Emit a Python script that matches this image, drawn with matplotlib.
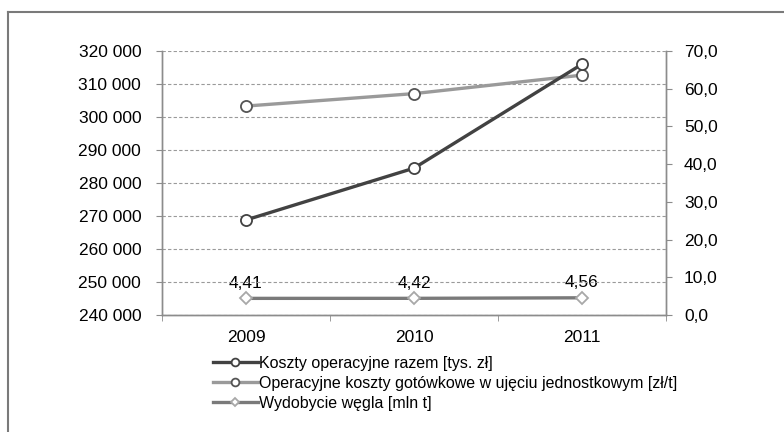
import matplotlib.pyplot as plt
from matplotlib.lines import Line2D
from matplotlib.ticker import FuncFormatter
import numpy as np

plt.rcParams['font.family'] = ['Liberation Sans', 'DejaVu Sans']

years = ['2009', '2010', '2011']
koszty_razem = [268800, 284500, 316000]          # tys. zl, left axis
koszty_jednostkowe = [55.4, 58.7, 63.6]          # zl/t, right axis
wydobycie = [4.41, 4.42, 4.56]                   # mln t, right axis

labels = ['Koszty operacyjne razem [tys. zł]',
          'Operacyjne koszty gotówkowe w ujęciu jednostkowym [zł/t]',
          'Wydobycie węgla [mln t]']

axis_gray = '#8c8c8c'
fs = 12.5

fig = plt.figure(figsize=(7.84, 4.32), dpi=100)
ax = fig.add_axes([162/784, 1 - 315/432, 504/784, 264/432])
ax2 = ax.twinx()

x = np.arange(len(years))

# left axis
ax.set_xlim(-0.5, 2.5)
ax.set_ylim(240000, 320000)
ax.set_yticks(np.arange(240000, 320001, 10000))
ax.yaxis.set_major_formatter(FuncFormatter(lambda v, p: '{:,.0f}'.format(v).replace(',', ' ')))
ax.grid(axis='y', color='#9a9a9a', linestyle=(0, (3, 2)), linewidth=0.8)
ax.set_axisbelow(True)

ax.set_xticks(x)
ax.set_xticklabels(years)
ax.set_xticks(np.arange(-0.5, 2.6, 1), minor=True)
ax.tick_params(axis='x', which='major', length=0, labelsize=fs, pad=11)
ax.tick_params(axis='x', which='minor', length=4, color=axis_gray, direction='out')
ax.tick_params(axis='y', length=4, color=axis_gray, labelsize=fs, pad=11)

# right axis
ax2.set_ylim(0, 70)
ax2.set_yticks(np.arange(0, 71, 10))
ax2.yaxis.set_major_formatter(FuncFormatter(lambda v, p: '{:.1f}'.format(v).replace('.', ',')))
ax2.tick_params(axis='y', length=4, color=axis_gray, labelsize=fs, pad=9)

for a in (ax, ax2):
    a.spines['top'].set_visible(False)
    for s in ('left', 'right', 'bottom'):
        a.spines[s].set_color(axis_gray)
        a.spines[s].set_linewidth(1.0)

l1, = ax.plot(x, koszty_razem, color='#424242', lw=2.4, marker='o', ms=8,
              mfc='white', mec='#424242', mew=1.3, zorder=5, clip_on=False)
l2, = ax2.plot(x, koszty_jednostkowe, color='#9a9a9a', lw=2.4, marker='o', ms=8,
               mfc='white', mec='#555555', mew=1.3, zorder=4, clip_on=False)
l3, = ax2.plot(x, wydobycie, color='#7a7a7a', lw=2.4, marker='D', ms=6.5,
               mfc='white', mec='#a8a8a8', mew=1.3, zorder=4, clip_on=False)

# bring the left-axis line above the twin axes
ax.set_zorder(ax2.get_zorder() + 1)
ax.patch.set_visible(False)

for xi, v in zip(x, wydobycie):
    ax2.annotate('{:.2f}'.format(v).replace('.', ','), (xi, v), xytext=(0, 5.5),
                 textcoords='offset points', ha='center', va='bottom', fontsize=fs)

fig.legend([l1, l2, l3], labels, loc='upper left',
           bbox_to_anchor=(213/784, 1 - 356/432), frameon=False, fontsize=11.5,
           handlelength=2.8, handletextpad=0.1, labelspacing=0.3,
           borderaxespad=0, borderpad=0, markerscale=0.7)

# outer frame (top and left edges visible)
fig.add_artist(Line2D([8/784, 8/784], [0, 1 - 12/432], transform=fig.transFigure,
                      color='#7a7a7a', lw=1.5))
fig.add_artist(Line2D([8/784, 1], [1 - 12/432, 1 - 12/432], transform=fig.transFigure,
                      color='#7a7a7a', lw=1.5))

fig.savefig('out.png', dpi=100)
